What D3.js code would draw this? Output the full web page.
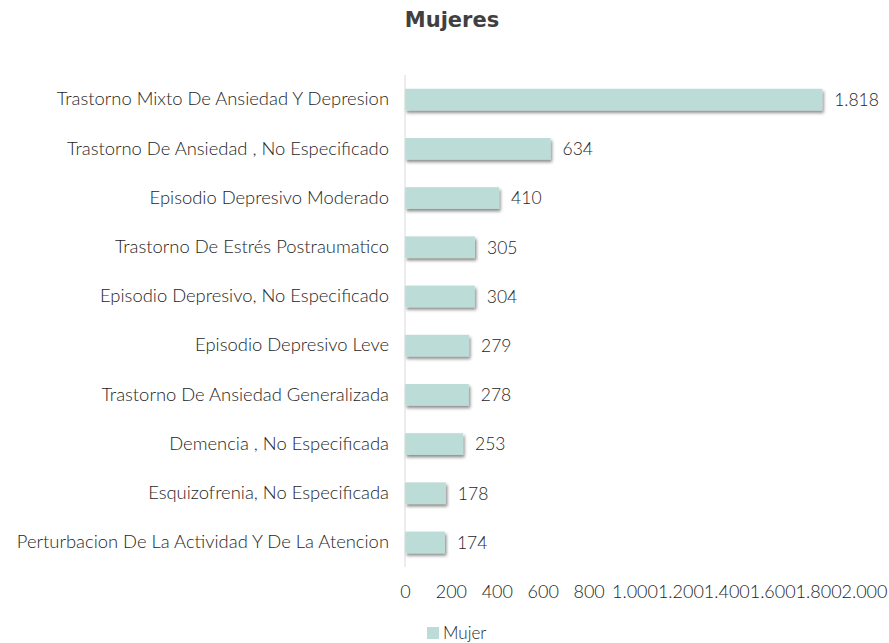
<!DOCTYPE html>
<html>
<head>
<meta charset="utf-8">
<script src="https://cdn.jsdelivr.net/npm/d3@7"></script>
<style>
  html, body { margin: 0; padding: 0; background: #ffffff; }
  svg { display: block; font-family: "Lato", "Open Sans", sans-serif; }
</style>
</head>
<body>
<svg id="chart" width="889" height="643"></svg>
<script>
const categories = [
  "Trastorno Mixto De Ansiedad Y Depresion",
  "Trastorno De Ansiedad , No Especificado",
  "Episodio Depresivo Moderado",
  "Trastorno De Estrés Postraumatico",
  "Episodio Depresivo, No Especificado",
  "Episodio Depresivo Leve",
  "Trastorno De Ansiedad Generalizada",
  "Demencia , No Especificada",
  "Esquizofrenia, No Especificada",
  "Perturbacion De La Actividad Y De La Atencion"
];
const mujerValues = [1818, 634, 410, 305, 304, 279, 278, 253, 178, 174];
const tickValues = [0, 200, 400, 600, 800, 1000, 1200, 1400, 1600, 1800, 2000];
const seriesName = "Mujer";
const chartTitle = "Mujeres";

const svg = d3.select("#chart");
const margin = { left: 405, right: 25, top: 75, bottom: 76 };
const W = 889, H = 643;
const textColor = "#1e1e1e";
const barColor = "#bcddd7";
const bodyFont = "Lato, 'Open Sans', sans-serif";
const bodyWeight = 300;

const fmt = d3.formatLocale({ decimal: ",", thousands: ".", grouping: [3], currency: ["", ""] }).format(",d");

const x = d3.scaleLinear().domain([0, 2000]).range([margin.left, W - margin.right]);
const y = d3.scaleBand().domain(categories).range([margin.top, H - margin.bottom]).paddingInner(0.56).paddingOuter(0.28);

const defs = svg.append("defs");
const f = defs.append("filter").attr("id", "shadow").attr("x", "-5%").attr("y", "-30%").attr("width", "115%").attr("height", "180%");
f.append("feDropShadow").attr("dx", 1.5).attr("dy", 2.5).attr("stdDeviation", 1.6)
  .attr("flood-color", "#000").attr("flood-opacity", 0.45);

// title
svg.append("text")
  .attr("x", 452).attr("y", 27)
  .attr("text-anchor", "middle")
  .attr("font-family", "DejaVu Sans, Verdana, sans-serif")
  .attr("font-weight", "bold")
  .attr("font-size", 21)
  .attr("fill", "#404040")
  .text(chartTitle);

// bars
const data = categories.map((c, i) => ({ c, v: mujerValues[i] }));
svg.append("g").selectAll("rect").data(data).join("rect")
  .attr("x", x(0))
  .attr("y", d => y(d.c))
  .attr("width", d => x(d.v) - x(0))
  .attr("height", y.bandwidth())
  .attr("fill", barColor)
  .attr("filter", "url(#shadow)");

// vertical axis line
svg.append("line")
  .attr("x1", x(0)).attr("x2", x(0))
  .attr("y1", margin.top).attr("y2", H - margin.bottom)
  .attr("stroke", "#d9d9d9").attr("stroke-width", 1);

// category labels
const yAxis = d3.axisLeft(y).tickSize(0).tickPadding(16);
const yg = svg.append("g").attr("transform", `translate(${x(0)},0)`).call(yAxis);
yg.select(".domain").remove();
yg.selectAll("text").attr("font-size", 18.4).attr("fill", textColor)
  .attr("font-family", bodyFont).attr("font-weight", bodyWeight);

// value labels
svg.append("g").selectAll("text").data(data).join("text")
  .attr("x", d => x(d.v) + 12)
  .attr("y", d => y(d.c) + y.bandwidth() / 2)
  .attr("dy", "0.36em")
  .attr("font-size", 17.5)
  .attr("font-weight", bodyWeight)
  .attr("fill", textColor)
  .text(d => fmt(d.v));

// x axis
const xAxis = d3.axisBottom(x).tickValues(tickValues).tickSize(0).tickPadding(0).tickFormat(d => fmt(d));
const xg = svg.append("g").attr("transform", `translate(0,${H - margin.bottom + 18})`).call(xAxis);
xg.select(".domain").remove();
xg.selectAll("text").attr("font-size", 18).attr("fill", textColor)
  .attr("font-family", bodyFont).attr("font-weight", bodyWeight);

// legend
const lg = svg.append("g").attr("transform", "translate(427,627)");
lg.append("rect").attr("width", 12).attr("height", 12).attr("fill", barColor);
lg.append("text").attr("x", 16).attr("y", 6).attr("dy", "0.36em")
  .attr("font-size", 17).attr("font-weight", bodyWeight).attr("fill", textColor).text(seriesName);
</script>
</body>
</html>
